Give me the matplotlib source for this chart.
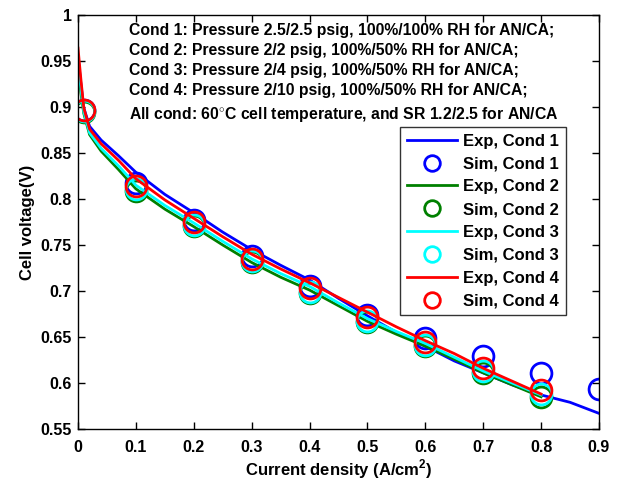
import matplotlib
matplotlib.use("Agg")
import matplotlib.pyplot as plt

plt.rcParams['font.family'] = ['Liberation Sans', 'DejaVu Sans']
plt.rcParams['font.weight'] = 'bold'
plt.rcParams['mathtext.fontset'] = 'custom'
plt.rcParams['mathtext.rm'] = 'Liberation Sans:bold'
plt.rcParams['mathtext.bf'] = 'Liberation Sans:bold'

# Experimental curves
exp_x = [0, 0.005, 0.01, 0.02, 0.04, 0.07, 0.1, 0.15, 0.2, 0.25, 0.3, 0.35, 0.4,
         0.45, 0.5, 0.55, 0.6, 0.65, 0.7, 0.75, 0.8]
exp_x1 = exp_x + [0.85, 0.9]
exp_c1 = [0.955, 0.925, 0.899, 0.879, 0.864, 0.847, 0.829, 0.805, 0.785, 0.764, 0.745,
          0.728, 0.712, 0.692, 0.673, 0.655, 0.640, 0.624, 0.611, 0.598, 0.587, 0.579, 0.567]
exp_c2 = [0.945, 0.915, 0.893, 0.870, 0.852, 0.832, 0.811, 0.789, 0.770, 0.750, 0.731,
          0.715, 0.701, 0.684, 0.667, 0.653, 0.640, 0.626, 0.611, 0.598, 0.585]
exp_c3 = [0.950, 0.920, 0.895, 0.872, 0.855, 0.836, 0.815, 0.793, 0.774, 0.754, 0.735,
          0.719, 0.705, 0.687, 0.670, 0.656, 0.643, 0.628, 0.613, 0.600, 0.587]
exp_c4 = [0.964, 0.930, 0.899, 0.876, 0.860, 0.842, 0.822, 0.799, 0.779, 0.759, 0.740,
          0.724, 0.709, 0.693, 0.677, 0.661, 0.646, 0.632, 0.616, 0.602, 0.588]

# Simulation points
sim_x = [0.01, 0.1, 0.2, 0.3, 0.4, 0.5, 0.6, 0.7, 0.8]
sim_x1 = sim_x + [0.9]
sim_c1 = [0.897, 0.817, 0.777, 0.738, 0.705, 0.674, 0.649, 0.629, 0.611, 0.593]
sim_c2 = [0.895, 0.809, 0.771, 0.732, 0.698, 0.666, 0.640, 0.611, 0.585]
sim_c3 = [0.896, 0.811, 0.772, 0.733, 0.699, 0.667, 0.641, 0.613, 0.588]
sim_c4 = [0.897, 0.814, 0.775, 0.735, 0.703, 0.672, 0.645, 0.616, 0.592]

xticks = [0, 0.1, 0.2, 0.3, 0.4, 0.5, 0.6, 0.7, 0.8, 0.9]
yticks = [0.55, 0.6, 0.65, 0.7, 0.75, 0.8, 0.85, 0.9, 0.95, 1]

notes = ["Cond 1: Pressure 2.5/2.5 psig, 100%/100% RH for AN/CA;",
         "Cond 2: Pressure 2/2 psig, 100%/50% RH for AN/CA;",
         "Cond 3: Pressure 2/4 psig, 100%/50% RH for AN/CA;",
         "Cond 4: Pressure 2/10 psig, 100%/50% RH for AN/CA;"]
note5 = "All cond: 60$^{\\circ}$C cell temperature, and SR 1.2/2.5 for AN/CA"

fig = plt.figure(figsize=(6.35, 4.82), dpi=100)
ax = fig.add_axes([78/635, 1-429/482, 521/635, 414/482])

colors = [(0, 0, 1), (0, 0.5, 0), (0, 1, 1), (1, 0, 0)]
exps = [(exp_x1, exp_c1), (exp_x, exp_c2), (exp_x, exp_c3), (exp_x, exp_c4)]
sims = [(sim_x1, sim_c1), (sim_x, sim_c2), (sim_x, sim_c3), (sim_x, sim_c4)]
for i in range(4):
    ex, ey = exps[i]
    sx, sy = sims[i]
    ax.plot(ex, ey, '-', color=colors[i], lw=2, label=f"Exp, Cond {i+1}")
    ax.plot(sx, sy, 'o', color=colors[i], mfc='none', mec=colors[i], ms=15, mew=2,
            label=f"Sim, Cond {i+1}")

ax.set_xlim(0, 0.9)
ax.set_ylim(0.55, 1)
ax.set_xticks(xticks)
ax.set_yticks(yticks)
ax.set_xticklabels([f"{t:g}" for t in xticks])
ax.set_yticklabels([f"{t:g}" for t in yticks])
ax.tick_params(direction='in', top=True, right=True, length=5, width=1, labelsize=11.5)
ax.tick_params(axis='x', pad=8)
ax.tick_params(axis='y', pad=4.5)
for s in ax.spines.values():
    s.set_linewidth(1)

ax.set_xlabel("Current density (A/cm$^2$)", fontsize=12, fontweight='bold', labelpad=2)
ax.set_ylabel("Cell voltage(V)", fontsize=12, fontweight='bold', labelpad=4)

ys = [31, 50, 70, 90]
for t, y in zip(notes, ys):
    fig.text(129/635, 1-y/482, t, fontsize=11.3, fontweight='bold', va='center', ha='left')
fig.text(129/635, 1-115/482, note5, fontsize=11.3, fontweight='bold', va='center', ha='left')

leg = ax.legend(loc='upper left', bbox_to_anchor=((400-78)/521, (429-127)/414),
                fontsize=12, frameon=True, fancybox=False, edgecolor='black',
                borderaxespad=0, handlelength=3.0, handletextpad=0.4,
                labelspacing=0.47, borderpad=0.4, markerscale=0.75)
leg.get_frame().set_linewidth(1)

fig.savefig("out.png", dpi=100)
